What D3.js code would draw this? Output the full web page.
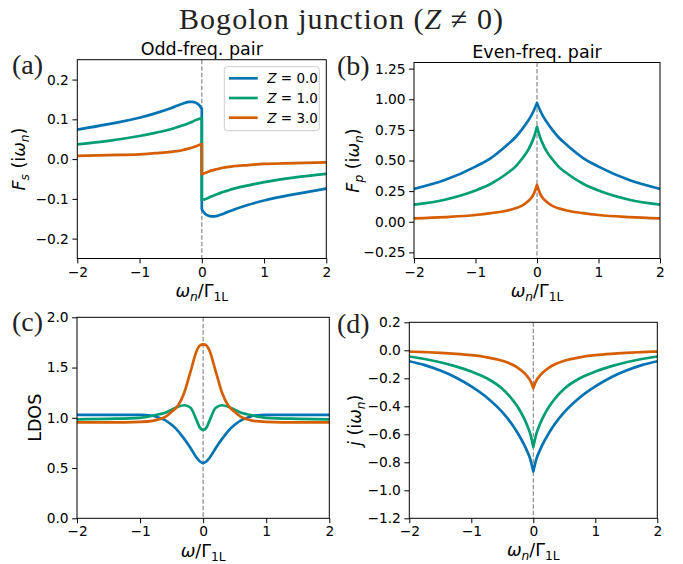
<!DOCTYPE html>
<html><head><meta charset="utf-8">
<script src="https://cdn.jsdelivr.net/npm/d3@7"></script>
<style>body{margin:0;background:#fff} svg{display:block}</style>
</head><body><svg id="chart" width="683" height="564"></svg>
<script>
// ---------- data ----------
const seriesNames = ["Z = 0.0", "Z = 1.0", "Z = 3.0"];
const seriesColors = ["#0173B2", "#029E73", "#D55E00"];

// (a) odd-frequency pair amplitude (0 appears twice: 0- and 0+)
const omegaA = [-2, -1.5, -1, -0.75, -0.5, -0.4, -0.3, -0.2, -0.15, -0.1, -0.05, -0.02, 0, 0, 0.02, 0.05, 0.1, 0.15, 0.2, 0.3, 0.4, 0.5, 0.75, 1, 1.5, 2];
const fsZ0 = [0.074, 0.088, 0.104, 0.115, 0.128, 0.134, 0.140, 0.144, 0.144, 0.142, 0.137, 0.131, 0.126, -0.126, -0.131, -0.137, -0.142, -0.144, -0.144, -0.140, -0.134, -0.128, -0.115, -0.104, -0.088, -0.074];
const fsZ1 = [0.037, 0.046, 0.058, 0.066, 0.075, 0.080, 0.085, 0.091, 0.094, 0.098, 0.101, 0.102, 0.102, -0.102, -0.102, -0.101, -0.098, -0.094, -0.091, -0.085, -0.080, -0.075, -0.066, -0.058, -0.046, -0.037];
const fsZ3 = [0.008, 0.010, 0.012, 0.015, 0.018, 0.020, 0.023, 0.027, 0.029, 0.032, 0.035, 0.037, 0.038, -0.038, -0.037, -0.035, -0.032, -0.029, -0.027, -0.023, -0.020, -0.018, -0.015, -0.012, -0.010, -0.008];

// (b) even-frequency pair amplitude
const omegaB = [-2, -1.5, -1, -0.75, -0.5, -0.35, -0.25, -0.15, -0.1, -0.05, 0, 0.05, 0.1, 0.15, 0.25, 0.35, 0.5, 0.75, 1, 1.5, 2];
const fpZ0 = [0.268, 0.34, 0.45, 0.52, 0.62, 0.69, 0.75, 0.82, 0.86, 0.91, 0.97, 0.91, 0.86, 0.82, 0.75, 0.69, 0.62, 0.52, 0.45, 0.34, 0.268];
const fpZ1 = [0.14, 0.18, 0.255, 0.31, 0.39, 0.45, 0.51, 0.58, 0.63, 0.69, 0.775, 0.69, 0.63, 0.58, 0.51, 0.45, 0.39, 0.31, 0.255, 0.18, 0.14];
const fpZ3 = [0.027, 0.038, 0.055, 0.07, 0.09, 0.11, 0.13, 0.165, 0.19, 0.23, 0.30, 0.23, 0.19, 0.165, 0.13, 0.11, 0.09, 0.07, 0.055, 0.038, 0.027];

// (c) local density of states
const omegaC = [-2, -1.5, -1, -0.8, -0.7, -0.6, -0.5, -0.4, -0.3, -0.2, -0.1, -0.05, 0, 0.05, 0.1, 0.2, 0.3, 0.4, 0.5, 0.6, 0.7, 0.8, 1, 1.5, 2];
const ldosZ0 = [1.03, 1.03, 1.03, 1.02, 1.0, 0.975, 0.93, 0.87, 0.79, 0.70, 0.60, 0.565, 0.55, 0.565, 0.60, 0.70, 0.79, 0.87, 0.93, 0.975, 1.0, 1.02, 1.03, 1.03, 1.03];
const ldosZ1 = [0.985, 0.99, 1.0, 1.02, 1.035, 1.05, 1.08, 1.11, 1.125, 1.10, 0.97, 0.90, 0.88, 0.90, 0.97, 1.10, 1.125, 1.11, 1.08, 1.05, 1.035, 1.02, 1.0, 0.99, 0.985];
const ldosZ3 = [0.955, 0.955, 0.96, 0.97, 0.985, 1.01, 1.06, 1.12, 1.25, 1.46, 1.67, 1.72, 1.73, 1.72, 1.67, 1.46, 1.25, 1.12, 1.06, 1.01, 0.985, 0.97, 0.96, 0.955, 0.955];

// (d) current
const omegaD = [-2, -1.75, -1.5, -1.25, -1, -0.75, -0.5, -0.35, -0.25, -0.15, -0.1, -0.05, 0, 0.05, 0.1, 0.15, 0.25, 0.35, 0.5, 0.75, 1, 1.25, 1.5, 1.75, 2];
const jZ0 = [-0.078, -0.106, -0.145, -0.194, -0.258, -0.337, -0.442, -0.525, -0.592, -0.672, -0.72, -0.775, -0.865, -0.775, -0.72, -0.672, -0.592, -0.525, -0.442, -0.337, -0.258, -0.194, -0.145, -0.106, -0.078];
const jZ1 = [-0.044, -0.062, -0.085, -0.115, -0.152, -0.2, -0.275, -0.345, -0.405, -0.485, -0.535, -0.595, -0.69, -0.595, -0.535, -0.485, -0.405, -0.345, -0.275, -0.2, -0.152, -0.115, -0.085, -0.062, -0.044];
const jZ3 = [-0.009, -0.013, -0.018, -0.025, -0.035, -0.05, -0.075, -0.1, -0.125, -0.16, -0.185, -0.215, -0.27, -0.215, -0.185, -0.16, -0.125, -0.1, -0.075, -0.05, -0.035, -0.025, -0.018, -0.013, -0.009];

const xTicks = [-2, -1, 0, 1, 2];
const xTickLabels = ["\u22122", "\u22121", "0", "1", "2"];
const yTicksA = [-0.2, -0.1, 0, 0.1, 0.2];
const yLabelsA = ["\u22120.2", "\u22120.1", "0.0", "0.1", "0.2"];
const yTicksB = [-0.25, 0, 0.25, 0.5, 0.75, 1.0, 1.25];
const yLabelsB = ["\u22120.25", "0.00", "0.25", "0.50", "0.75", "1.00", "1.25"];
const yTicksC = [0, 0.5, 1.0, 1.5, 2.0];
const yLabelsC = ["0.0", "0.5", "1.0", "1.5", "2.0"];
const yTicksD = [-1.2, -1.0, -0.8, -0.6, -0.4, -0.2, 0, 0.2];
const yLabelsD = ["\u22121.2", "\u22121.0", "\u22120.8", "\u22120.6", "\u22120.4", "\u22120.2", "0.0", "0.2"];

// ---------- drawing ----------
const svg = d3.select("#chart");
const SANS = "DejaVu Sans, sans-serif";
const SERIF = "Liberation Serif, DejaVu Serif, serif";

function mathText(parent, x, y, parts, size, rotate) {
  const t = parent.append("text").attr("x", x).attr("y", y)
    .attr("font-family", SANS).attr("font-size", size).attr("fill", "#000")
    .attr("text-anchor", "middle");
  if (rotate) t.attr("transform", `rotate(-90,${x},${y})`);
  let shifted = 0;
  parts.forEach(p => {
    const s = t.append("tspan").text(p.t);
    if (p.it) s.attr("font-style", "italic");
    const target = p.sub ? size * 0.22 : 0;
    if (target !== shifted) { s.attr("dy", target - shifted); shifted = target; }
    if (p.sub) s.attr("font-size", size * 0.7);
  });
  return t;
}

function panel(cfg) {
  const x = d3.scaleLinear().domain([-2, 2]).range([cfg.left, cfg.right]);
  const y = d3.scaleLinear().domain(cfg.ydom).range([cfg.bottom, cfg.top]);
  const g = svg.append("g");
  const clipId = "clip" + cfg.id;
  g.append("clipPath").attr("id", clipId).append("rect")
    .attr("x", cfg.left).attr("y", cfg.top).attr("width", cfg.right - cfg.left).attr("height", cfg.bottom - cfg.top);

  g.append("line").attr("x1", x(0)).attr("x2", x(0)).attr("y1", cfg.top).attr("y2", cfg.bottom)
    .attr("stroke", "#8a8a8a").attr("stroke-width", 1.2).attr("stroke-dasharray", "4.5,2");

  const line = d3.line().x(d => x(d[0])).y(d => y(d[1])).curve(d3.curveMonotoneX);
  const lineG = g.append("g").attr("clip-path", `url(#${clipId})`);
  cfg.series.forEach((vals, k) => {
    const pts = cfg.xs.map((xv, i) => [xv, vals[i]]);
    let dStr;
    if (cfg.split) {
      const i0 = cfg.xs.indexOf(0), i1 = cfg.xs.lastIndexOf(0);
      const left = pts.slice(0, i0 + 1), right = pts.slice(i1);
      dStr = line(left) + line(right).replace(/^M/, "L");
    } else {
      dStr = line(pts);
    }
    lineG.append("path").attr("d", dStr).attr("fill", "none")
      .attr("stroke", seriesColors[k]).attr("stroke-width", 2.7)
      .attr("stroke-linejoin", "round").attr("stroke-linecap", "butt");
  });

  const xa = g.append("g").attr("transform", `translate(0,${cfg.bottom})`)
    .call(d3.axisBottom(x).tickValues(xTicks).tickFormat((d, i) => xTickLabels[i])
      .tickSize(4.9).tickPadding(3.5).tickSizeOuter(0));
  const ya = g.append("g").attr("transform", `translate(${cfg.left},0)`)
    .call(d3.axisLeft(y).tickValues(cfg.yticks).tickFormat((d, i) => cfg.ylabels[i])
      .tickSize(4.9).tickPadding(3.5).tickSizeOuter(0));
  [xa, ya].forEach(a => {
    a.select(".domain").remove();
    a.selectAll("text").attr("font-family", SANS).attr("font-size", 13.8).attr("fill", "#000");
    a.selectAll("line").attr("stroke", "#000").attr("stroke-width", 1);
  });

  g.append("rect").attr("x", cfg.left).attr("y", cfg.top)
    .attr("width", cfg.right - cfg.left).attr("height", cfg.bottom - cfg.top)
    .attr("fill", "none").attr("stroke", "#000").attr("stroke-width", 1);

  mathText(g, (cfg.left + cfg.right) / 2, cfg.xlabY, cfg.xlabel, 17.5, false);
  mathText(g, cfg.ylabX, (cfg.top + cfg.bottom) / 2, cfg.ylabel, 17.5, true);
  svg.append("text").attr("x", cfg.tagX).attr("y", cfg.tagY).attr("font-family", SERIF)
    .attr("font-size", 28).attr("fill", "#222").text(cfg.tag);
  if (cfg.title) {
    svg.append("text").attr("x", (cfg.left + cfg.right) / 2).attr("y", cfg.top - 5)
      .attr("text-anchor", "middle").attr("font-family", SANS).attr("font-size", 17.5)
      .attr("fill", "#000").text(cfg.title);
  }
  return { x, y, g };
}

const xlabN = [{t: "\u03c9", it: true}, {t: "n", it: true, sub: true}, {t: "/\u0393"}, {t: "1L", sub: true}];
const xlabC = [{t: "\u03c9", it: true}, {t: "/\u0393"}, {t: "1L", sub: true}];

panel({id: "a", left: 77.3, right: 326.3, top: 59.7, bottom: 258.5, ydom: [-0.25, 0.25],
  yticks: yTicksA, ylabels: yLabelsA, xs: omegaA, series: [fsZ0, fsZ1, fsZ3], split: true,
  xlabel: xlabN, xlabY: 297, ylabX: 25,
  ylabel: [{t: "F", it: true}, {t: "s", it: true, sub: true}, {t: " (i"}, {t: "\u03c9", it: true}, {t: "n", it: true, sub: true}, {t: ")"}],
  tag: "(a)", tagX: 12, tagY: 74, title: "Odd-freq. pair"});

panel({id: "b", left: 414, right: 660, top: 62.5, bottom: 258.5, ydom: [-0.3, 1.3],
  yticks: yTicksB, ylabels: yLabelsB, xs: omegaB, series: [fpZ0, fpZ1, fpZ3], split: true,
  xlabel: xlabN, xlabY: 297, ylabX: 359,
  ylabel: [{t: "F", it: true}, {t: "p", it: true, sub: true}, {t: " (i"}, {t: "\u03c9", it: true}, {t: "n", it: true, sub: true}, {t: ")"}],
  tag: "(b)", tagX: 337, tagY: 75, title: "Even-freq. pair"});

panel({id: "c", left: 77, right: 329.3, top: 317.3, bottom: 518.3, ydom: [0, 2],
  yticks: yTicksC, ylabels: yLabelsC, xs: omegaC, series: [ldosZ0, ldosZ1, ldosZ3], split: false,
  xlabel: xlabC, xlabY: 557, ylabX: 41,
  ylabel: [{t: "LDOS"}],
  tag: "(c)", tagX: 12, tagY: 331});

panel({id: "d", left: 409.3, right: 657.3, top: 322.3, bottom: 518.3, ydom: [-1.2, 0.2],
  yticks: yTicksD, ylabels: yLabelsD, xs: omegaD, series: [jZ0, jZ1, jZ3], split: true,
  xlabel: xlabN, xlabY: 556, ylabX: 361,
  ylabel: [{t: "j", it: true}, {t: " (i"}, {t: "\u03c9", it: true}, {t: "n", it: true, sub: true}, {t: ")"}],
  tag: "(d)", tagX: 337, tagY: 333});

// legend in panel (a)
const lg = svg.append("g");
lg.append("rect").attr("x", 224.3).attr("y", 66.7).attr("width", 95).attr("height", 64).attr("rx", 3)
  .attr("fill", "#fff").attr("fill-opacity", 0.8).attr("stroke", "#cccccc").attr("stroke-width", 1);
seriesNames.forEach((nm, k) => {
  const yy = 78.3 + k * 19.7;
  lg.append("line").attr("x1", 229).attr("x2", 257.7).attr("y1", yy).attr("y2", yy)
    .attr("stroke", seriesColors[k]).attr("stroke-width", 2.7);
  const t = lg.append("text").attr("x", 267.3).attr("y", yy + 5).attr("font-family", SANS)
    .attr("font-size", 13.5).attr("fill", "#000");
  t.append("tspan").attr("font-style", "italic").text("Z");
  t.append("tspan").text(nm.slice(1));
});

// main title
const title = svg.append("text").attr("x", 341.5).attr("y", 29).attr("text-anchor", "middle")
  .attr("font-family", SERIF).attr("font-size", 30).attr("fill", "#222");
title.append("tspan").text("Bogolon junction (");
title.append("tspan").attr("font-style", "italic").text("Z");
title.append("tspan").text(" \u2260 0)");
const tl = title.node().getComputedTextLength();
title.attr("letter-spacing", Math.max(0, (326 - tl) / 25).toFixed(2));
</script></body></html>
